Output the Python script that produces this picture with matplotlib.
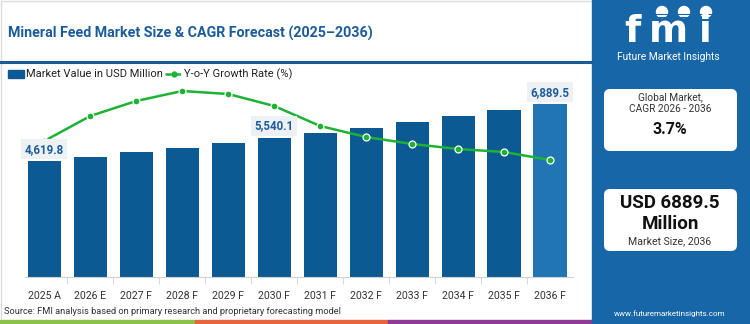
import matplotlib
matplotlib.use('Agg')
import matplotlib.pyplot as plt
from matplotlib.patches import Rectangle, FancyBboxPatch, Circle
import numpy as np

# data
years = ['2025 A', '2026 E', '2027 F', '2028 F', '2029 F', '2030 F',
         '2031 F', '2032 F', '2033 F', '2034 F', '2035 F', '2036 F']
market_value = [4619.8, 4788, 4975, 5134, 5345, 5540.1,
                5731, 5942, 6169, 6408, 6647, 6889.5]
yoy_growth = [3.60, 3.85, 4.00, 4.10, 4.07, 3.95,
              3.75, 3.64, 3.57, 3.52, 3.49, 3.41]
labelled = {0: '4,619.8', 5: '5,540.1', 11: '6,889.5'}

W, H = 750, 324
DARK = '#0b5a94'
LIGHT = '#2175b5'
GREEN = '#1db233'
TITLE_C = '#1b5c98'
PANEL = '#1766a8'

plt.rcParams['font.family'] = ['Roboto', 'DejaVu Sans']
fig = plt.figure(figsize=(W / 100, H / 100), dpi=100)

# background / decoration layer in pixel coords
bg = fig.add_axes([0, 0, 1, 1])
bg.set_xlim(0, W)
bg.set_ylim(H, 0)
bg.axis('off')
bg.add_patch(Rectangle((0.5, 0.5), 592, 322, fill=False, ec='#dcdcdc', lw=1))
bg.plot([0, 592], [61.5, 61.5], color=TITLE_C, lw=2.2)
bg.text(8, 33, 'Mineral Feed Market Size & CAGR Forecast (2025\u20132036)',
        fontsize=10.3, fontweight='bold', color=TITLE_C, va='center', ha='left')

# legend
bg.add_patch(Rectangle((8, 70), 16, 7.5, color=DARK))
bg.text(26, 74, 'Market Value in USD Million', fontsize=8.0, color='#222', va='center')
bg.plot([165, 182], [74, 74], color=GREEN, lw=1.8, ls=(0, (2.5, 1.2)))
bg.plot([173.5], [74], 'o', color=GREEN, ms=3.5)
bg.text(184, 74, 'Y-o-Y Growth Rate (%)', fontsize=8.0, color='#222', va='center')

# source + stripes
bg.text(4, 312, 'Source: FMI analysis based on primary research and proprietary forecasting model',
        fontsize=6.7, color='#333', va='center')
bg.add_patch(Rectangle((0, 320), 195, 4, color='#8bc34a'))
bg.add_patch(Rectangle((195, 320), 193, 4, color='#e8643c'))
bg.add_patch(Rectangle((388, 320), 204, 4, color='#8e3a96'))

# right panel with logo
bg.add_patch(Rectangle((592, 0), 158, H, color=PANEL))
for ch, cx in [('f', 632), ('m', 668), ('i', 705)]:
    bg.text(cx, 42, ch, fontsize=27, fontweight='bold', color='white',
            ha='center', va='baseline', family='DejaVu Sans')
for yy in np.arange(14, 44, 3.2):
    bg.plot([615, 720], [yy, yy], color=PANEL, lw=0.8)
for cx in [662, 684, 706]:
    bg.add_patch(Circle((cx, 12), 5.5, color='white'))
bg.text(668, 57, 'Future Market Insights', fontsize=7.4, color='white',
        ha='center', va='center')

bg.add_patch(FancyBboxPatch((604, 89), 133, 62, boxstyle='round,pad=0,rounding_size=6',
                            fc='white', ec='none'))
bg.text(670, 97, 'Global Market,', fontsize=7.3, color='#333', ha='center', va='center')
bg.text(670, 109.5, 'CAGR 2026 - 2036', fontsize=7.3, color='#333', ha='center', va='center')
bg.text(670, 129, '3.7%', fontsize=11.5, fontweight='bold', color='#111', ha='center', va='center')

bg.add_patch(FancyBboxPatch((604, 189), 133, 62, boxstyle='round,pad=0,rounding_size=6',
                            fc='white', ec='none'))
bg.text(670, 203, 'USD 6889.5', fontsize=13.5, fontweight='bold', color='#111', ha='center', va='center')
bg.text(670, 224, 'Million', fontsize=13.5, fontweight='bold', color='#111', ha='center', va='center')
bg.text(670, 241, 'Market Size, 2036', fontsize=7.6, color='#333', ha='center', va='center')
bg.text(670, 314, 'www.futuremarketinsights.com', fontsize=5.8, color='white', ha='center', va='center')

# bar chart
x = np.arange(len(years))
ax = fig.add_axes([25 / W, (H - 277.3) / H, 548 / W, 192.3 / H])
ax.set_facecolor('none')
colors = [DARK] * (len(years) - 1) + [LIGHT]
ax.bar(x, market_value, width=0.72, color=colors, zorder=2)
ax.set_xlim(-0.42, 11.5)
ax.set_ylim(0, 192.3 * 39.8)
ax.set_yticks([])
ax.set_xticks(x)
ax.set_xticklabels(years, fontsize=7.6, color='#333')
ax.set_xticks(x[:-1] + 0.5, minor=True)
ax.tick_params(axis='x', which='major', length=0, pad=10)
ax.tick_params(axis='x', which='minor', length=5, color='#d0d0d0', direction='out')
for s in ['top', 'right', 'left']:
    ax.spines[s].set_visible(False)
ax.spines['bottom'].set_color('#d0d0d0')

# growth line on twin axis
ax2 = ax.twinx()
ax2.set_ylim(2.237, 4.16)
ax2.axis('off')
ax2.plot(x, yoy_growth, color=GREEN, lw=1.8, marker='o', ms=5,
         mfc=GREEN, mec='white', mew=0.9, zorder=3)

# value labels
for i, txt in labelled.items():
    ax2.annotate(txt, xy=(x[i], market_value[i]), xycoords=ax.transData,
                 xytext=(0, 12), textcoords='offset pixels', ha='center', va='center',
                 fontsize=8.3, fontweight='bold', color=TITLE_C, zorder=5,
                 bbox=dict(boxstyle='square,pad=0.3', fc='#eef1f4', ec='none'))

fig.savefig('out.png', dpi=100)
